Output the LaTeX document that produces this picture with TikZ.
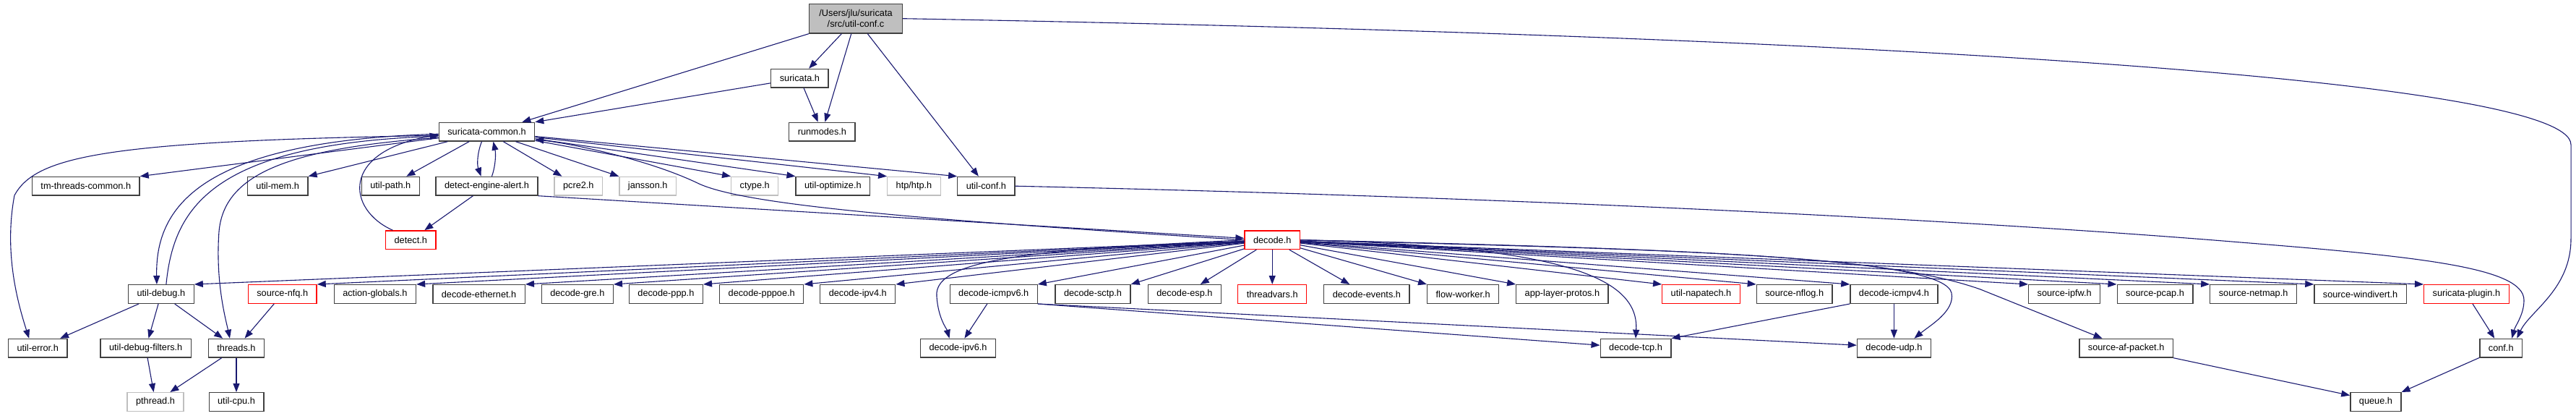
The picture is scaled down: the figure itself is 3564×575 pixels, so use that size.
\documentclass[tikz,border=0pt]{standalone}
\usepackage{fontspec}
\setmainfont{Liberation Sans}
\usepackage{tikz}
\usetikzlibrary{arrows.meta}

\definecolor{edgeblue}{HTML}{191970}
\definecolor{grey25}{HTML}{404040}
\definecolor{grey75}{HTML}{BFBFBF}

\tikzset{
	hdr/.style={draw=grey25, line width=1.3pt, fill=white, text=black, inner xsep=12pt, inner ysep=0pt, minimum height=25.7pt, font=\fontsize{12.74pt}{15.3pt}\selectfont},
	hdrred/.style={hdr, draw=red},
	hdrext/.style={hdr, draw=grey75},
	dep/.style={draw=edgeblue, line width=1.1pt, -{Triangle[length=12pt, width=9pt]}}
}

\begin{document}
\begin{tikzpicture}[x=1pt, y=-1pt]
		%%%%% START %%%%%
		\useasboundingbox (0, 0) rectangle (3564, 575);
		
		\node[hdr, fill=grey75, align=center, minimum height=40.7pt, minimum width=129pt] (root) at (1184, 25.7) {/Users/jlu/suricata\\/src/util-conf.c};
		\node[hdr] (suri) at (1106.4, 108.2) {suricata.h};
		\node[hdr] (scommon) at (673.5, 182.2) {suricata-common.h};
		\node[hdr] (runmodes) at (1137.4, 182.2) {runmodes.h};
		
		\node[hdr] (tmthreads) at (118.8, 257.2) {tm-threads-common.h};
		\node[hdr] (utilmem) at (384.2, 257.2) {util-mem.h};
		\node[hdr] (utilpath) at (540.3, 257.2) {util-path.h};
		\node[hdr] (dalert) at (673.5, 257.2) {detect-engine-alert.h};
		\node[hdrext] (pcre) at (800.3, 257.2) {pcre2.h};
		\node[hdrext] (jansson) at (896.2, 257.2) {jansson.h};
		\node[hdrext] (ctype) at (1044.2, 257.2) {ctype.h};
		\node[hdr] (optimize) at (1152.4, 257.2) {util-optimize.h};
		\node[hdrext] (htp) at (1264.5, 257.2) {htp/htp.h};
		\node[hdr] (utilconf) at (1364.4, 257.2) {util-conf.h};
		
		\node[hdrred] (detect) at (568.3, 331.7) {detect.h};
		\node[hdrred] (decode) at (1760.2, 331.7) {decode.h};
		
		\node[hdr] (udebug) at (222.9, 406.5) {util-debug.h};
		\node[hdrred] (nfq) at (390.7, 406.5) {source-nfq.h};
		\node[hdr] (actglob) at (518.9, 406.5) {action-globals.h};
		\node[hdr] (deceth) at (662.6, 406.5) {decode-ethernet.h};
		\node[hdr] (decgre) at (798.8, 406.5) {decode-gre.h};
		\node[hdr] (decppp) at (921.4, 406.5) {decode-ppp.h};
		\node[hdr] (decpppoe) at (1053.7, 406.5) {decode-pppoe.h};
		\node[hdr] (decipv4) at (1186.8, 406.5) {decode-ipv4.h};
		\node[hdr] (decicmp6) at (1374.7, 406.5) {decode-icmpv6.h};
		\node[hdr] (decsctp) at (1512, 406.5) {decode-sctp.h};
		\node[hdr] (decesp) at (1638.9, 406.5) {decode-esp.h};
		\node[hdrred] (tvars) at (1760.2, 406.5) {threadvars.h};
		\node[hdr] (decevents) at (1890.9, 406.5) {decode-events.h};
		\node[hdr] (flowworker) at (2024.2, 406.5) {flow-worker.h};
		\node[hdr] (alproto) at (2161.4, 406.5) {app-layer-protos.h};
		\node[hdrred] (napatech) at (2353.5, 406.5) {util-napatech.h};
		\node[hdr] (nflog) at (2482.7, 406.5) {source-nflog.h};
		\node[hdr] (decicmp4) at (2620.4, 406.5) {decode-icmpv4.h};
		\node[hdr] (ipfw) at (2856.2, 406.5) {source-ipfw.h};
		\node[hdr] (pcap) at (2981.5, 406.5) {source-pcap.h};
		\node[hdr] (netmap) at (3117.6, 406.5) {source-netmap.h};
		\node[hdr] (windivert) at (3265.6, 406.5) {source-windivert.h};
		\node[hdrred] (plugin) at (3412.4, 406.5) {suricata-plugin.h};
		
		\node[hdr] (uerror) at (52.2, 481.2) {util-error.h};
		\node[hdr] (udfilt) at (201.7, 481.2) {util-debug-filters.h};
		\node[hdr] (threads) at (327, 481.2) {threads.h};
		\node[hdr] (decipv6) at (1325.5, 481.2) {decode-ipv6.h};
		\node[hdr] (dectcp) at (2263, 481.2) {decode-tcp.h};
		\node[hdr] (decudp) at (2620.4, 481.2) {decode-udp.h};
		\node[hdr] (afpacket) at (2941.6, 481.2) {source-af-packet.h};
		\node[hdr] (conf) at (3460.2, 481.2) {conf.h};
		
		\node[hdrext] (pthread) at (215, 555.5) {pthread.h};
		\node[hdr] (utilcpu) at (327, 555.5) {util-cpu.h};
		\node[hdr] (queue) at (3286.9, 555.5) {queue.h};
		
		% top of the graph
		\draw[dep] (root.south west) -- ([xshift=-18pt]scommon.north east);
		\draw[dep] (root) -- (suri);
		\draw[dep] (root) -- (runmodes);
		\draw[dep] (root) -- (utilconf);
		\draw[dep] (root.east) .. controls (2600, 50) and (3557, 110) .. (3557, 200) -- (3557, 330) .. controls (3557, 400) and (3500, 430) .. ([xshift=-8pt]conf.north east);
		\draw[dep] (suri) -- (scommon.north east);
		\draw[dep] (suri) -- (runmodes);
		
		% suricata-common.h
		\draw[dep] (scommon) -- (tmthreads.north east);
		\draw[dep] (scommon) -- (utilmem.north east);
		\draw[dep] (scommon) -- ([xshift=22pt]utilpath.north);
		\draw[dep] ([yshift=-5pt]scommon.west) .. controls (150, 195) and (50, 215) .. (20, 270) .. controls (5, 350) and (25, 420) .. ([xshift=-12pt]uerror.north);
		\draw[dep] ([yshift=-3pt]scommon.west) .. controls (270, 195) and (215, 290) .. ([xshift=-6pt]udebug.north);
		\draw[dep] ([xshift=7pt]udebug.north) .. controls (240, 290) and (290, 200) .. ([yshift=-6pt]scommon.west);
		\draw[dep] ([yshift=-8pt]scommon.west) .. controls (400, 205) and (310, 240) .. (303, 320) .. controls (298, 390) and (312, 440) .. ([xshift=-9pt]threads.north);
		\draw[dep] ([xshift=-7pt]scommon.south) .. controls (660, 212) and (660, 228) .. ([xshift=-8pt]dalert.north);
		\draw[dep] ([xshift=7pt]dalert.north) .. controls (686, 228) and (686, 212) .. ([xshift=9pt]scommon.south);
		\draw[dep] (scommon) -- (pcre);
		\draw[dep] (scommon) -- (jansson);
		\draw[dep] (scommon) -- (ctype.north west);
		\draw[dep] (scommon) -- (optimize.north west);
		\draw[dep] (scommon) -- (htp.north west);
		\draw[dep] (scommon) -- (utilconf.north west);
		\draw[dep] (utilconf.east) .. controls (2200, 275) and (2800, 310) .. (3100, 335) .. controls (3350, 355) and (3492, 370) .. (3492, 415) .. controls (3492, 435) and (3480, 450) .. ([xshift=-15pt]conf.north east);
		
		% detect
		\draw[dep] (dalert) -- (detect);
		\draw[dep] (dalert.south east) -- (decode);
		\draw[dep] ([xshift=-25pt]detect.north) .. controls (480, 290) and (470, 210) .. ([yshift=-4pt]scommon.west);
		\draw[dep] (decode.west) .. controls (1300, 305) and (1030, 285) .. (965, 253) .. controls (900, 222) and (800, 200) .. ([yshift=3pt]scommon.south east);
		
		% decode.h
		\draw[dep] (decode) -- (udebug.north east);
		\draw[dep] (decode) -- (nfq.north east);
		\draw[dep] (decode) -- (actglob.north east);
		\draw[dep] (decode) -- (deceth.north east);
		\draw[dep] (decode) -- (decgre.north east);
		\draw[dep] (decode) -- (decppp.north east);
		\draw[dep] (decode) -- (decpppoe.north east);
		\draw[dep] (decode) -- (decipv4.north east);
		\draw[dep] (decode) -- (decicmp6.north east);
		\draw[dep] (decode) -- (decsctp.north east);
		\draw[dep] (decode) -- (decesp);
		\draw[dep] (decode) -- (tvars);
		\draw[dep] (decode) -- (decevents);
		\draw[dep] (decode) -- (flowworker.north west);
		\draw[dep] (decode) -- (alproto.north west);
		\draw[dep] (decode) -- (napatech.north west);
		\draw[dep] (decode) -- (nflog.north west);
		\draw[dep] (decode) -- (decicmp4.north west);
		\draw[dep] (decode) -- (ipfw.north west);
		\draw[dep] (decode) -- (pcap.north west);
		\draw[dep] (decode) -- (netmap.north west);
		\draw[dep] (decode) -- (windivert.north west);
		\draw[dep] (decode) -- (plugin.north west);
		\draw[dep] (decode.west) .. controls (1450, 345) and (1290, 355) .. (1296, 410) .. controls (1298, 440) and (1310, 455) .. ([xshift=-12pt]decipv6.north);
		\draw[dep] (decode.east) .. controls (2150, 340) and (2268, 380) .. (dectcp.north);
		\draw[dep] (decode.east) .. controls (2400, 345) and (2690, 360) .. (2700, 405) .. controls (2705, 430) and (2670, 450) .. ([xshift=28pt]decudp.north);
		\draw[dep] (decode.east) .. controls (2300, 345) and (2600, 350) .. (2740, 400) -- ([xshift=-33pt]afpacket.north);
		
		% lower rows
		\draw[dep] (decicmp6) -- (decipv6);
		\draw[dep] (decicmp6.south east) -- ([yshift=4pt]dectcp.west);
		\draw[dep] (decicmp6.south east) -- ([yshift=4pt]decudp.west);
		\draw[dep] (decicmp4.south west) -- (dectcp.north east);
		\draw[dep] (decicmp4) -- (decudp);
		\draw[dep] (afpacket.south east) -- ([yshift=9pt]queue.west);
		\draw[dep] (plugin) -- ([xshift=-9pt]conf.north);
		\draw[dep] (conf) -- (queue.north east);
		
		\draw[dep] (udebug) -- (uerror);
		\draw[dep] (udebug) -- (udfilt);
		\draw[dep] (udebug) -- (threads);
		\draw[dep] (nfq) -- (threads);
		\draw[dep] (udfilt) -- (pthread);
		\draw[dep] (threads) -- (pthread);
		\draw[dep] (threads) -- (utilcpu);
		
		%%%%% END %%%%%
	\end{tikzpicture}
\end{document}
